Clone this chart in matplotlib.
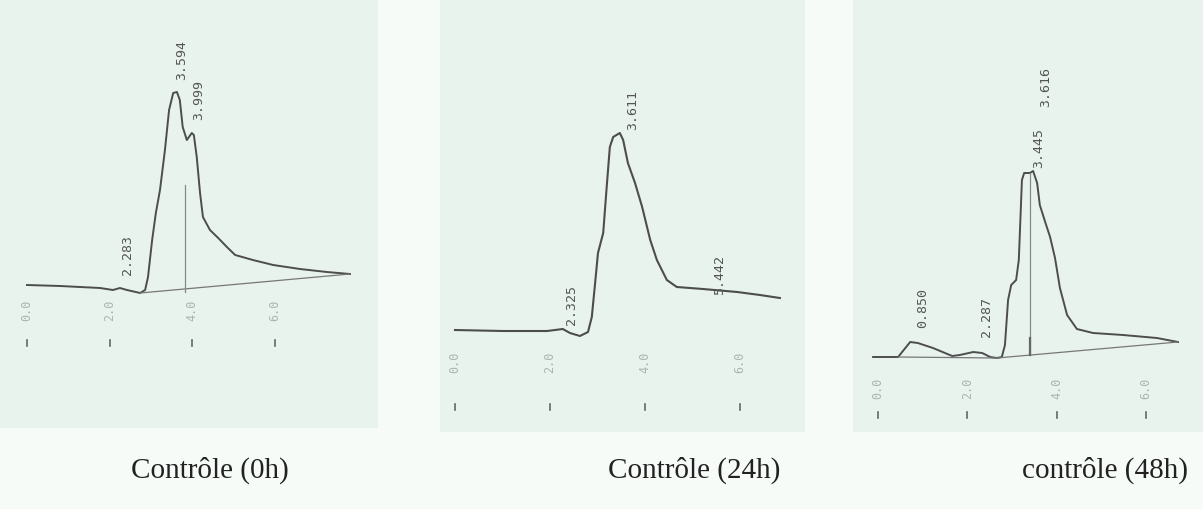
import matplotlib.pyplot as plt

W, H = 1203, 509

# ---- Contrôle (0h) : retention time (min) / detector signal (a.u.)
t0 = [0.0, 0.80, 1.77, 2.08, 2.25, 2.42, 2.74, 2.86, 2.93, 3.03, 3.12, 3.22,
      3.34, 3.44, 3.54, 3.63, 3.70, 3.77, 3.87, 3.99, 4.04, 4.11, 4.19, 4.26,
      4.43, 4.63, 4.84, 5.04, 5.47, 5.96, 6.61, 7.26, 7.82]
s0 = [5, 4, 2, 0, 2, 0, -3, 0, 13, 50, 77, 100,
      140, 180, 197, 198, 190, 163, 150, 157, 155, 133, 97, 73,
      60, 52, 43, 35, 30, 25, 21, 18, 16]
peaks0 = [2.283, 3.594, 3.999]
peak_h0 = [15, 210, 170]
base0 = [(2.74, -3), (7.82, 16)]
drop0 = (3.83, 105)

# ---- Contrôle (24h)
t1 = [0.0, 1.01, 1.94, 2.27, 2.42, 2.63, 2.80, 2.88, 2.95, 3.01, 3.12, 3.20,
      3.26, 3.33, 3.47, 3.54, 3.64, 3.79, 3.94, 4.11, 4.25, 4.46, 4.67, 5.22,
      5.94, 6.42, 6.84]
s1 = [0, -1, -1, 1, -3, -6, -2, 13, 47, 77, 97, 147,
      183, 193, 197, 190, 167, 147, 123, 90, 70, 50, 43, 41,
      38, 35, 32]
peaks1 = [2.325, 3.611, 5.442]
peak_h1 = [5, 200, 35]

# ---- contrôle (48h)
t2 = [-0.11, 0.45, 0.72, 0.89, 1.23, 1.66, 1.83, 2.13, 2.33, 2.51, 2.66, 2.77,
      2.84, 2.91, 2.98, 3.09, 3.15, 3.22, 3.27, 3.40, 3.47, 3.56, 3.62, 3.74,
      3.85, 3.96, 4.07, 4.23, 4.45, 4.81, 5.48, 6.24, 6.71]
s2 = [1, 1, 16, 15, 10, 2, 3, 6, 5, 1, 0, 1,
      13, 58, 73, 78, 98, 178, 185, 185, 187, 175, 153, 136,
      121, 100, 70, 43, 29, 25, 23, 20, 16]
peaks2 = [0.850, 2.287, 3.445, 3.616]
peak_h2 = [30, 21, 190, 251]
base2 = [(0.45, 1), (2.66, 0), (6.71, 16)]
drop2 = (3.40, 185)

titles = ['Contrôle (0h)', 'Contrôle (24h)', 'contrôle (48h)']
ticks = [0.0, 2.0, 4.0, 6.0]

page_bg = '#f6fbf8'
panel_bg = '#e8f3ee'
ink = '#4d4d4d'

fig = plt.figure(figsize=(W / 100, H / 100), dpi=100, facecolor=page_bg)


def add_panel(px, t_origin, px_per_min, base_py, tick_py, mark_py):
    # px = (left, top, right, bottom) of the scanned panel in pixels
    x0, y0, x1, y1 = px
    ax = fig.add_axes([x0 / W, 1 - y1 / H, (x1 - x0) / W, (y1 - y0) / H])
    ax.set_facecolor(panel_bg)
    ax.set_xlim((x0 - t_origin) / px_per_min, (x1 - t_origin) / px_per_min)
    ax.set_ylim(base_py - y1, base_py - y0)
    for sp in ax.spines.values():
        sp.set_visible(False)
    ax.set_xticks([])
    ax.set_yticks([])
    for tk in ticks:
        ax.text(tk, base_py - tick_py, f'{tk:.1f}', rotation=90, ha='center',
                va='center', fontsize=8.5, family='DejaVu Sans Mono', color='#aab4b0')
        ax.plot([tk, tk], [base_py - mark_py + 3, base_py - mark_py - 3],
                color='#666666', lw=1.2)
    return ax


def label_peaks(ax, rts, heights):
    for rt, h in zip(rts, heights):
        ax.text(rt, h, f'{rt:.3f}', rotation=90, ha='left', va='bottom',
                fontsize=9.5, family='DejaVu Sans Mono', color='#555555')


# panel 1
ax = add_panel((0, 0, 378, 428), 27, 41.3, 290, 310, 343)
ax.plot(t0, s0, color=ink, lw=1.4)
ax.plot(*zip(*base0), color='#777777', lw=0.9)
ax.plot([drop0[0], drop0[0]], [-2, drop0[1]], color='#888888', lw=0.9)
label_peaks(ax, peaks0, peak_h0)

# panel 2
ax = add_panel((440, 0, 805, 432), 455, 47.5, 330, 362, 407)
ax.plot(t1, s1, color=ink, lw=1.5)
label_peaks(ax, peaks1, peak_h1)

# panel 3
ax = add_panel((853, 0, 1203, 432), 878, 44.7, 358, 388, 415)
ax.plot(t2, s2, color=ink, lw=1.4)
ax.plot(*zip(*base2), color='#777777', lw=0.9)
ax.plot([drop2[0], drop2[0]], [3, drop2[1]], color='#888888', lw=0.9)
ax.plot([drop2[0], drop2[0]], [3, 20], color='#666666', lw=1.6)
label_peaks(ax, peaks2, peak_h2)

# captions under each chromatogram
for xc, title in zip([210, 694, 1105], titles):
    fig.text(xc / W, 1 - 470 / H, title, ha='center', va='center',
             fontsize=21, family='Liberation Serif', color='#222222')

fig.savefig('out.png', dpi=100, facecolor=page_bg)
